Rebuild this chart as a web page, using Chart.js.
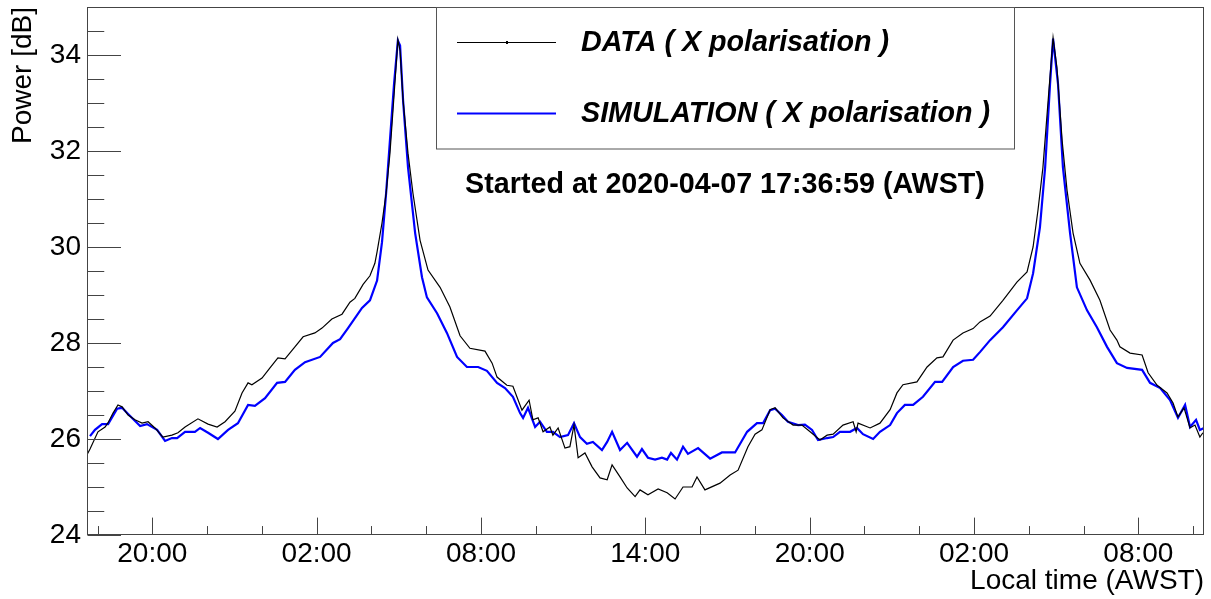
<!DOCTYPE html>
<html><head><meta charset="utf-8">
<script src="https://cdn.jsdelivr.net/npm/chart.js@4.4.1/dist/chart.umd.min.js"></script>
<style>html,body{margin:0;padding:0;background:#fff;overflow:hidden}canvas{display:block}</style>
</head><body>
<canvas id="c" width="1211" height="599"></canvas>
<script>
// ---------------- data ----------------
const subtitleText = 'Started at 2020-04-07 17:36:59 (AWST)';
const startHourOfDay = 17 + 36 / 60 + 59 / 3600;   // 17:36:59
const seriesNames = ['DATA ( X polarisation )', 'SIMULATION ( X polarisation )'];
const xTitle = 'Local time (AWST)';
const yTitle = 'Power [dB]';

// hours elapsed since start
const dataHours = [0,0.11,0.40,0.66,0.77,0.95,1.13,1.28,1.50,1.75,2.01,2.23,2.48,2.77,3.10,3.32,3.58,4.05,4.42,4.75,5.04,5.40,5.66,5.88,6.02,6.39,6.68,6.97,7.23,7.59,7.89,8.32,8.58,8.94,9.31,9.60,9.78,10.08,10.33,10.51,10.59,10.77,10.92,11.06,11.17,11.28,11.35,11.43,11.54,11.72,11.90,12.16,12.45,12.89,13.25,13.62,13.98,14.53,14.79,14.97,15.33,15.55,15.88,16.14,16.28,16.47,16.65,16.90,17.01,17.20,17.45,17.63,17.78,17.93,18.18,18.44,18.73,18.99,19.17,19.46,19.72,20.01,20.19,20.48,20.85,21.18,21.47,21.76,22.09,22.27,22.56,23.11,23.48,23.77,24.13,24.39,24.64,24.94,25.12,25.41,25.78,26.10,26.40,26.76,27.02,27.24,27.60,27.97,28.08,28.15,28.59,28.95,29.32,29.57,29.79,30.30,30.67,31.03,31.25,31.62,31.98,32.35,32.60,32.97,33.44,33.95,34.32,34.54,34.72,34.90,35.09,35.27,35.41,35.60,35.78,36.00,36.25,36.62,36.98,37.35,37.60,37.71,38.08,38.52,38.74,39.07,39.43,39.65,39.83,40.05,40.27,40.45,40.63,40.74];
const dataPower = [25.67,25.79,26.15,26.25,26.34,26.54,26.71,26.67,26.50,26.40,26.33,26.36,26.23,26.04,26.08,26.13,26.25,26.42,26.31,26.25,26.36,26.58,26.96,27.17,27.13,27.27,27.48,27.69,27.67,27.92,28.13,28.21,28.31,28.50,28.60,28.85,28.93,29.22,29.40,29.66,29.90,30.50,31.12,31.95,32.84,33.74,34.32,34.09,33.05,31.95,31.12,30.14,29.52,29.16,28.75,28.15,27.89,27.83,27.58,27.29,27.12,27.10,26.60,26.81,26.40,26.44,26.15,26.25,26.08,26.23,25.81,25.84,26.29,25.61,25.71,25.42,25.19,25.15,25.46,25.21,24.98,24.80,24.94,24.84,24.96,24.88,24.75,25.00,25.00,25.21,24.94,25.08,25.25,25.35,25.84,26.10,26.19,26.61,26.65,26.44,26.29,26.29,26.15,25.98,26.08,26.10,26.29,26.36,26.15,26.33,26.23,26.33,26.61,26.96,27.13,27.19,27.50,27.69,27.71,28.06,28.21,28.30,28.44,28.56,28.89,29.27,29.48,30.00,30.77,31.66,33.05,34.36,33.74,32.22,31.18,30.29,29.66,29.31,28.89,28.27,28.06,27.92,27.79,27.75,27.38,27.12,26.96,26.75,26.46,26.65,26.23,26.29,26.04,26.13];

const simHours = [0.11,0.29,0.55,0.77,1.10,1.28,1.50,1.94,2.19,2.56,2.85,3.10,3.29,3.58,3.94,4.13,4.42,4.78,5.15,5.51,5.88,6.13,6.50,6.94,7.23,7.59,7.96,8.51,8.98,9.24,9.53,10.04,10.33,10.59,10.77,10.92,11.06,11.21,11.35,11.43,11.54,11.72,11.98,12.23,12.41,12.78,13.14,13.51,13.87,14.28,14.60,14.97,15.26,15.55,15.81,15.92,16.10,16.36,16.54,16.79,17.01,17.27,17.56,17.78,18.00,18.25,18.47,18.80,18.99,19.17,19.46,19.72,20.08,20.26,20.48,20.74,20.99,21.18,21.32,21.54,21.76,21.94,22.31,22.75,23.18,23.66,24.10,24.46,24.68,24.94,25.12,25.37,25.59,25.96,26.21,26.47,26.69,27.02,27.24,27.49,27.86,28.11,28.33,28.70,28.95,29.32,29.57,29.86,30.16,30.52,30.96,31.22,31.62,31.98,32.35,32.60,32.97,33.44,33.95,34.32,34.54,34.79,34.98,35.16,35.27,35.45,35.63,35.89,36.14,36.51,36.87,37.24,37.60,37.97,38.52,38.81,39.18,39.54,39.83,40.09,40.27,40.49,40.63,40.78];
const simPower = [26.06,26.19,26.31,26.31,26.63,26.65,26.52,26.27,26.31,26.19,25.96,26.02,26.02,26.15,26.15,26.23,26.13,26.00,26.19,26.33,26.71,26.69,26.85,27.17,27.19,27.44,27.60,27.71,28.00,28.08,28.31,28.73,28.89,29.30,30.10,31.12,32.22,33.40,34.30,34.20,33.05,31.66,30.29,29.37,28.95,28.62,28.21,27.71,27.50,27.50,27.42,27.17,27.06,26.88,26.54,26.44,26.65,26.25,26.36,26.15,26.15,26.04,26.08,26.33,26.04,25.90,25.94,25.77,25.94,26.15,25.77,25.92,25.63,25.79,25.61,25.57,25.61,25.57,25.71,25.57,25.84,25.69,25.81,25.59,25.72,25.72,26.15,26.33,26.33,26.60,26.63,26.50,26.36,26.29,26.30,26.19,25.98,26.02,26.04,26.15,26.15,26.23,26.10,26.00,26.15,26.29,26.54,26.71,26.71,26.88,27.19,27.19,27.50,27.63,27.65,27.81,28.06,28.33,28.68,28.93,29.45,30.41,31.66,33.40,34.34,33.40,31.66,30.29,29.16,28.68,28.33,27.92,27.58,27.48,27.44,27.17,27.06,26.81,26.44,26.71,26.25,26.40,26.19,26.23];

// axis ticks (hour of day, counted on from 2020-04-07 00:00)
const xMajorTickHours = [20, 26, 32, 38, 44, 50, 56];
const xMajorTickLabels = ['20:00', '02:00', '08:00', '14:00', '20:00', '02:00', '08:00'];
const xMinorTickHours = [18, 22, 24, 28, 30, 34, 36, 40, 42, 46, 48, 52, 54, 58];
const yMajorTicks = [24, 26, 28, 30, 32, 34];
const yMinorTicks = [24.5, 25, 25.5, 26.5, 27, 27.5, 28.5, 29, 29.5, 30.5, 31, 31.5, 32.5, 33, 33.5, 34.5];
const xRange = [0, 40.78];
const yRange = [24, 35];

// ---------------- chart ----------------
const FONT = "'Liberation Sans', Arial, Helvetica, sans-serif";
const xMajor = xMajorTickHours.map(h => h - startHourOfDay);
const xMinor = xMinorTickHours.map(h => h - startHourOfDay);
const near = (a, b) => Math.abs(a - b) < 1e-6;

const rootStyle = {
  id: 'rootStyle',
  afterDraw(chart) {
    const { ctx, chartArea: a, scales: { x, y } } = chart;
    ctx.save();
    ctx.strokeStyle = '#444';
    ctx.lineWidth = 1;
    const L = Math.round(a.left) + 0.5, T = Math.round(a.top) + 0.5;
    const R = Math.round(a.right) - 0.5, B = Math.round(a.bottom) - 0.5;
    ctx.strokeRect(L, T, R - L, B - T);
    const xLen = a.bottom - a.top, yLen = a.right - a.left;
    ctx.beginPath();
    y.ticks.forEach(t => {
      const major = yMajorTicks.some(v => near(v, t.value));
      const py = Math.round(y.getPixelForValue(t.value)) + 0.5;
      ctx.moveTo(L, py); ctx.lineTo(L + (major ? 0.03 : 0.015) * yLen, py);
    });
    x.ticks.forEach(t => {
      const major = xMajor.some(v => near(v, t.value));
      const px = Math.round(x.getPixelForValue(t.value)) + 0.5;
      ctx.moveTo(px, B); ctx.lineTo(px, B - (major ? 0.032 : 0.016) * xLen);
    });
    ctx.stroke();

    // legend box
    const bx0 = 436, by0 = T, bx1 = 1014, by1 = 149;
    ctx.fillStyle = '#fff';
    ctx.fillRect(bx0, by0, bx1 - bx0, by1 - by0);
    ctx.strokeStyle = '#555';
    ctx.strokeRect(bx0 + 0.5, by0, bx1 - bx0, by1 - by0);
    const rows = [42, 113];
    chart.data.datasets.forEach((ds, i) => {
      ctx.strokeStyle = ds.borderColor;
      ctx.lineWidth = ds.borderWidth;
      ctx.beginPath();
      ctx.moveTo(457, rows[i] + 0.5); ctx.lineTo(556, rows[i] + 0.5);
      ctx.stroke();
      if (i === 0) { ctx.fillStyle = ds.borderColor; ctx.fillRect(506, rows[i] - 1, 2, 3); }
      ctx.fillStyle = '#000';
      ctx.font = 'italic bold 28.7px ' + FONT;
      ctx.textAlign = 'left';
      ctx.textBaseline = 'middle';
      ctx.fillText(ds.label, 581, rows[i] + 1);
    });
    ctx.font = 'bold 28.7px ' + FONT;
    ctx.textAlign = 'center';
    ctx.fillStyle = '#000';
    ctx.fillText(subtitleText, 725, 185);
    ctx.restore();
  }
};

new Chart(document.getElementById('c'), {
  type: 'scatter',
  data: {
    datasets: [
      { label: seriesNames[0], data: dataHours.map((h, i) => ({ x: h, y: dataPower[i] })),
        showLine: true, borderColor: '#000000', borderWidth: 1.2, pointRadius: 0, tension: 0 },
      { label: seriesNames[1], data: simHours.map((h, i) => ({ x: h, y: simPower[i] })),
        showLine: true, borderColor: '#0000ff', borderWidth: 2.2, pointRadius: 0, tension: 0 }
    ]
  },
  options: {
    responsive: false, animation: false, devicePixelRatio: 1,
    layout: { padding: { top: 7, right: 7, left: 0, bottom: 0 } },
    plugins: { legend: { display: false }, tooltip: { enabled: false } },
    scales: {
      x: {
        type: 'linear', min: xRange[0], max: xRange[1],
        afterFit(s) { s.height = 64; s.paddingLeft = 0; s.paddingRight = 0; },
        afterBuildTicks(s) { s.ticks = xMinor.concat(xMajor).sort((a, b) => a - b).map(v => ({ value: v })); },
        ticks: {
          autoSkip: false, maxRotation: 0, minRotation: 0, padding: 2, color: '#000',
          font: { family: FONT, size: 28 },
          callback(v) { const k = xMajor.findIndex(m => near(m, v)); return k >= 0 ? xMajorTickLabels[k] : ''; }
        },
        grid: { display: false, drawTicks: false },
        border: { display: false },
        title: { display: true, text: xTitle, align: 'end', color: '#000', font: { family: FONT, size: 28 }, padding: { top: 0, bottom: 1 } }
      },
      y: {
        type: 'linear', min: yRange[0], max: yRange[1],
        afterFit(s) { s.width = 87; s.paddingTop = 0; s.paddingBottom = 0; },
        afterBuildTicks(s) { s.ticks = yMajorTicks.concat(yMinorTicks).sort((a, b) => a - b).map(v => ({ value: v })); },
        ticks: {
          autoSkip: false, padding: 6, color: '#000',
          font: { family: FONT, size: 28 },
          callback(v) { return yMajorTicks.some(m => near(m, v)) ? String(v) : ''; }
        },
        grid: { display: false, drawTicks: false },
        border: { display: false },
        title: { display: true, text: yTitle, align: 'end', color: '#000', font: { family: FONT, size: 28 }, padding: { top: 6, bottom: 0 } }
      }
    }
  },
  plugins: [rootStyle]
});
</script>
</body></html>
